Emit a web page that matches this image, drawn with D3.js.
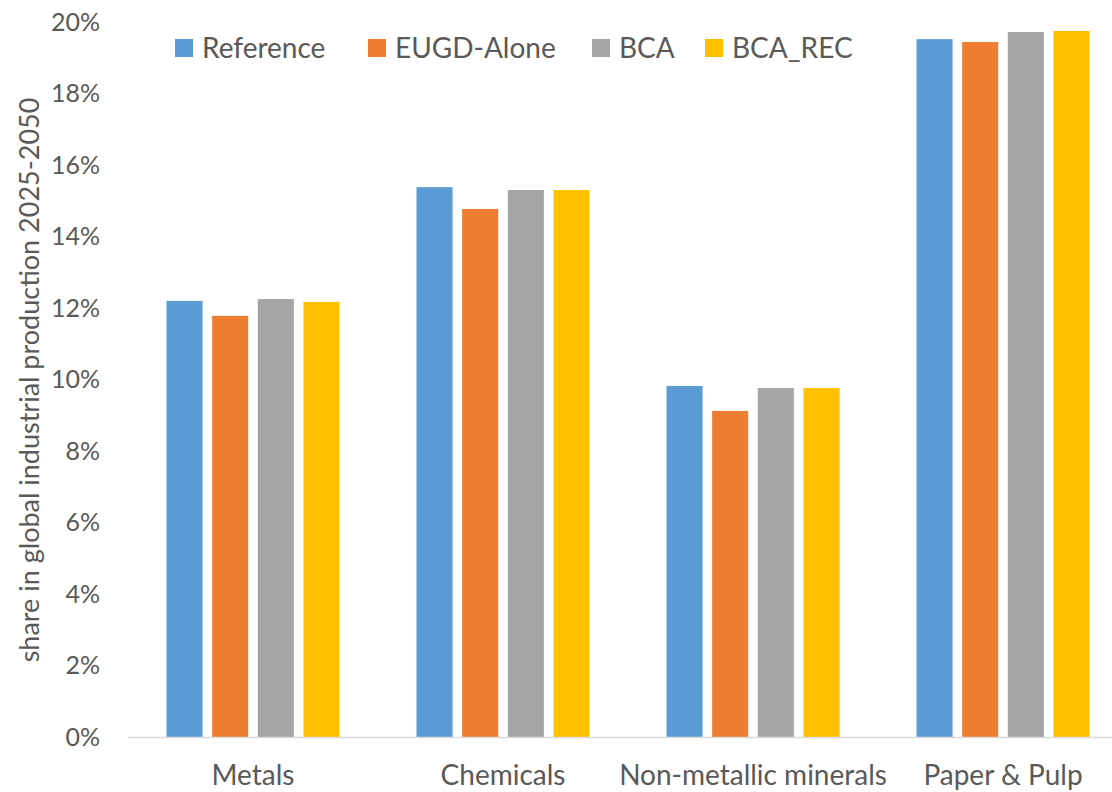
<!DOCTYPE html>
<html>
<head>
<meta charset="utf-8">
<script src="https://cdn.jsdelivr.net/npm/d3@7"></script>
<style>
  html, body { margin: 0; padding: 0; background: #fff; }
  svg { display: block; }
  text { font-family: Lato, "Liberation Sans", Arial, sans-serif; fill: #595959; }
</style>
</head>
<body>
<svg id="chart" width="1112" height="792"></svg>
<script>
// Sector shares of global industrial production, 2025-2050 (fraction)
const categories = ["Metals", "Chemicals", "Non-metallic minerals", "Paper & Pulp"];
const seriesNames = ["Reference", "EUGD-Alone", "BCA", "BCA_REC"];
const reference = [0.122, 0.1538, 0.0982, 0.1952];
const eugdAlone = [0.1178, 0.1477, 0.0912, 0.1944];
const bca       = [0.1225, 0.1530, 0.0976, 0.1972];
const bcaRec    = [0.1217, 0.1530, 0.0976, 0.1975];
const yTicks = [0, 0.02, 0.04, 0.06, 0.08, 0.10, 0.12, 0.14, 0.16, 0.18, 0.20];
const colors = ["#5B9BD5", "#ED7D31", "#A5A5A5", "#FFC000"];

const seriesValues = [reference, eugdAlone, bca, bcaRec];

const svg = d3.select("#chart");
const plot = { left: 128, right: 1128, top: 22, bottom: 737 };

const y = d3.scaleLinear().domain([0, 0.20]).range([plot.bottom, plot.top]);
const x0 = d3.scaleBand().domain(categories).range([plot.left, plot.right]).padding(0);
const x1 = d3.scaleBand().domain(seriesNames)
  .range([38.5, x0.bandwidth() - 38.5]).paddingInner(0.21).paddingOuter(0);

// Bars
const groups = svg.append("g").selectAll("g")
  .data(categories)
  .join("g")
  .attr("transform", d => `translate(${x0(d)},0)`);

groups.selectAll("rect")
  .data((c, ci) => seriesNames.map((s, si) => ({ s, si, v: seriesValues[si][ci] })))
  .join("rect")
  .attr("x", d => x1(d.s))
  .attr("width", x1.bandwidth())
  .attr("y", d => y(d.v))
  .attr("height", d => y(0) - y(d.v))
  .attr("fill", d => colors[d.si]);

// Baseline
svg.append("line")
  .attr("x1", plot.left).attr("x2", 1112)
  .attr("y1", y(0) + 0.5).attr("y2", y(0) + 0.5)
  .attr("stroke", "#d9d9d9").attr("stroke-width", 1.5);

// Y tick labels
const yAxis = d3.axisLeft(y).tickValues(yTicks).tickFormat(d3.format(".0%")).tickSize(0).tickPadding(0);
const yg = svg.append("g").attr("transform", `translate(100,0)`).call(yAxis);
yg.select(".domain").remove();
yg.selectAll("text").attr("font-size", 25).attr("fill", "#595959")
  .style("font-family", "Lato, 'Liberation Sans', Arial, sans-serif");

// X category labels
const xAxis = d3.axisBottom(x0).tickSize(0).tickPadding(0);
const xg = svg.append("g").attr("transform", `translate(0,${y(0) + 28})`).call(xAxis);
xg.select(".domain").remove();
xg.selectAll("text").attr("font-size", 28).attr("fill", "#595959")
  .style("font-family", "Lato, 'Liberation Sans', Arial, sans-serif");

// Y axis title
svg.append("text")
  .attr("transform", `translate(39,${380}) rotate(-90)`)
  .attr("text-anchor", "middle")
  .attr("font-size", 27)
  .text("share in global industrial production 2025-2050");

// Legend
const legendX = [175, 368, 592, 705];
const legend = svg.append("g").selectAll("g")
  .data(seriesNames)
  .join("g")
  .attr("transform", (d, i) => `translate(${legendX[i]},48)`);
legend.append("rect")
  .attr("x", 0).attr("y", -9).attr("width", 18).attr("height", 18)
  .attr("fill", (d, i) => colors[i]);
legend.append("text")
  .attr("x", 27).attr("y", 0).attr("dy", "0.35em")
  .attr("font-size", 28)
  .text(d => d);
</script>
</body>
</html>
